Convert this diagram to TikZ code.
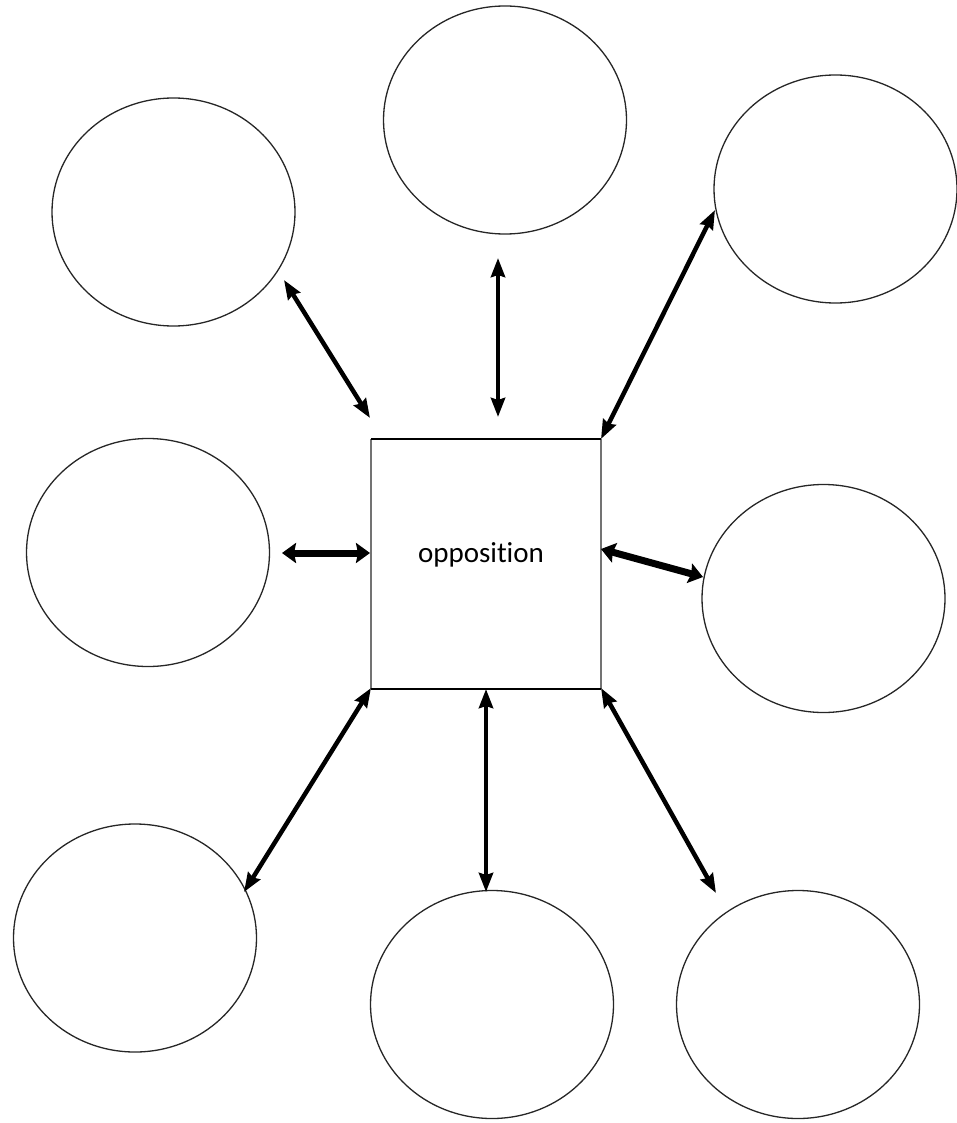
\documentclass[tikz,border=0pt]{standalone}
\usepackage{fontspec}
\setmainfont[Ligatures=NoCommon]{Carlito}
\usetikzlibrary{arrows.meta,shapes.geometric}
\begin{document}
\begin{tikzpicture}[x=1pt,y=-1pt,
  bubble/.style={draw=black!85,line width=1.3pt,ellipse,minimum width=243pt,minimum height=228pt,inner sep=0pt},
  link/.style={line width=4.5pt,{Stealth[length=19pt,width=14pt,inset=2pt]}-{Stealth[length=19pt,width=14pt,inset=2pt]}},
  thick link/.style={line width=7pt,{Stealth[length=14pt,width=20pt,inset=2pt]}-{Stealth[length=14pt,width=20pt,inset=2pt]}}]
\useasboundingbox (0,0) rectangle (957,1123);
% outer bubbles
\node[bubble] (tl) at (173.5,212) {};
\node[bubble] (tc) at (505,120) {};
\node[bubble] (tr) at (835.5,189) {};
\node[bubble] (ml) at (148,552.5) {};
\node[bubble] (mr) at (823.5,598.5) {};
\node[bubble] (bl) at (135,938) {};
\node[bubble] (bc) at (492,1004.5) {};
\node[bubble] (br) at (798,1004.5) {};
% central box
\coordinate (nw) at (371,439);
\coordinate (ne) at (601,439);
\coordinate (sw) at (371,689);
\coordinate (se) at (601,689);
\draw[black!55,line width=1.6pt] (nw) -- (sw) (ne) -- (se);
\draw[black,line width=2pt] (nw) -- (ne) (sw) -- (se);
\node[font=\fontsize{29}{34}\selectfont] (c) at (481,555) {opposition};
% arrow end points
\coordinate (a1) at (284,280);  \coordinate (b1) at (370,418);
\coordinate (a2) at (498,258);  \coordinate (b2) at (498,417);
\coordinate (a3) at (715,210);  \coordinate (b3) at (601,439);
\coordinate (a4) at (282,553);  \coordinate (b4) at (370,553);
\coordinate (a5) at (601,549);  \coordinate (b5) at (703,577);
\coordinate (a6) at (371,688);  \coordinate (b6) at (244,892);
\coordinate (a7) at (486,689);  \coordinate (b7) at (486,892);
\coordinate (a8) at (601,688);  \coordinate (b8) at (716,893);
\draw[link] (a1) -- (b1);
\draw[link] (a2) -- (b2);
\draw[link] (a3) -- (b3);
\draw[thick link] (a4) -- (b4);
\draw[thick link] (a5) -- (b5);
\draw[link] (a6) -- (b6);
\draw[link] (a7) -- (b7);
\draw[link] (a8) -- (b8);
\end{tikzpicture}
\end{document}
